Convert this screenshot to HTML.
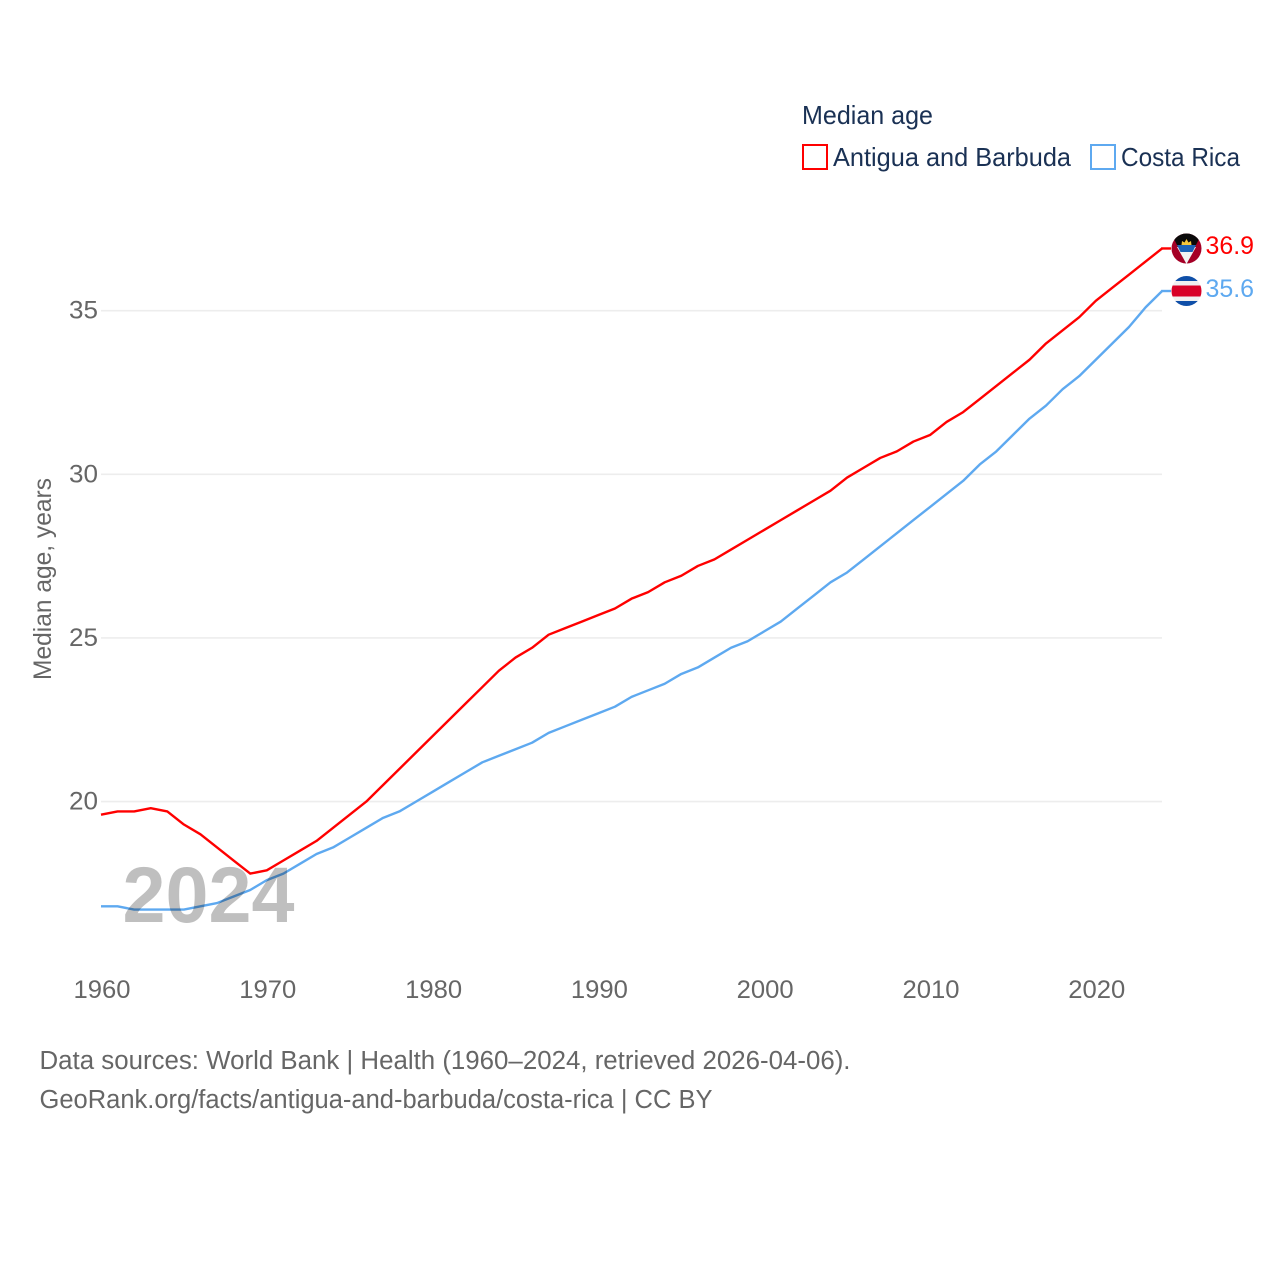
<!DOCTYPE html>
<html>
<head>
<meta charset="utf-8">
<title>Median age: Antigua and Barbuda vs Costa Rica</title>
<style>
html,body{margin:0;padding:0;background:#fff}
svg{display:block}
text{font-family:"Liberation Sans",sans-serif}
</style>
</head>
<body>
<svg id="chart" width="1280" height="1280" viewBox="0 0 1280 1280" xmlns="http://www.w3.org/2000/svg">
  <rect width="1280" height="1280" fill="#fff"/>
  <g id="grid"></g>
  <g id="yticks"></g>
  <g id="xticks"></g>
  <text transform="translate(51,680) rotate(-90)" font-size="25" fill="#666" textLength="202" lengthAdjust="spacingAndGlyphs">Median age, years</text>
  <g id="series"></g>
  <text x="122.5" y="922" font-size="79" font-weight="700" fill="#000" fill-opacity="0.25" textLength="172" lengthAdjust="spacingAndGlyphs" style="font-family:'Liberation Sans',sans-serif">2024</text>

  <text x="802" y="124" font-size="26" fill="#1a3154" textLength="131" lengthAdjust="spacingAndGlyphs">Median age</text>
  <rect x="803" y="145" width="24" height="24" fill="#fff" stroke="#ff0000" stroke-width="2"/>
  <text x="833" y="166" font-size="26" fill="#1a3154" textLength="238" lengthAdjust="spacingAndGlyphs">Antigua and Barbuda</text>
  <rect x="1091" y="145" width="24" height="24" fill="#fff" stroke="#5ea9f0" stroke-width="2"/>
  <text x="1121" y="166" font-size="26" fill="#1a3154" textLength="119" lengthAdjust="spacingAndGlyphs">Costa Rica</text>

  <defs>
    <clipPath id="flag-clip-ag"><circle cx="1186.5" cy="248.5" r="15"/></clipPath>
    <clipPath id="flag-clip-cr"><circle cx="1186.5" cy="291" r="15"/></clipPath>
  </defs>
  <g clip-path="url(#flag-clip-ag)">
    <rect x="1171" y="233" width="31" height="31" fill="#a50026"/>
    <polygon points="1171,233 1202,233 1186.5,264" fill="#0a0a0a"/>
    <polygon points="1177,247 1196,247 1186.5,264" fill="#f3f3f3"/>
    <polygon points="1177,245 1196,245 1192.5,252 1180.5,252" fill="#1c63b7"/>
    <polygon points="1181.5,245 1182,241 1184.5,242.5 1186.5,239 1188.5,242.5 1191,241 1191.5,245" fill="#f5c73a"/>
  </g>
  <g clip-path="url(#flag-clip-cr)">
    <rect x="1171" y="275" width="31" height="32" fill="#f0f0f0"/>
    <rect x="1171" y="275" width="31" height="6" fill="#0f4fa8"/>
    <rect x="1171" y="301" width="31" height="6" fill="#0f4fa8"/>
    <rect x="1171" y="285.5" width="31" height="11" fill="#d80027"/>
  </g>
  <text x="1205.5" y="254" font-size="25" fill="#ff0000" textLength="48.5" lengthAdjust="spacingAndGlyphs">36.9</text>
  <text x="1205.5" y="297" font-size="25" fill="#5ea9f0" textLength="48.5" lengthAdjust="spacingAndGlyphs">35.6</text>

  <text x="39.5" y="1069" font-size="25.5" fill="#666" textLength="811" lengthAdjust="spacingAndGlyphs">Data sources: World Bank | Health (1960–2024, retrieved 2026-04-06).</text>
  <text x="39.5" y="1108" font-size="25.5" fill="#666" textLength="673" lengthAdjust="spacingAndGlyphs">GeoRank.org/facts/antigua-and-barbuda/costa-rica | CC BY</text>
</svg>
<script>
const years = [1960,1961,1962,1963,1964,1965,1966,1967,1968,1969,1970,1971,1972,1973,1974,1975,1976,1977,1978,1979,1980,1981,1982,1983,1984,1985,1986,1987,1988,1989,1990,1991,1992,1993,1994,1995,1996,1997,1998,1999,2000,2001,2002,2003,2004,2005,2006,2007,2008,2009,2010,2011,2012,2013,2014,2015,2016,2017,2018,2019,2020,2021,2022,2023,2024];
const antiguaValues = [19.6,19.7,19.7,19.8,19.7,19.3,19.0,18.6,18.2,17.8,17.9,18.2,18.5,18.8,19.2,19.6,20.0,20.5,21.0,21.5,22.0,22.5,23.0,23.5,24.0,24.4,24.7,25.1,25.3,25.5,25.7,25.9,26.2,26.4,26.7,26.9,27.2,27.4,27.7,28.0,28.3,28.6,28.9,29.2,29.5,29.9,30.2,30.5,30.7,31.0,31.2,31.6,31.9,32.3,32.7,33.1,33.5,34.0,34.4,34.8,35.3,35.7,36.1,36.5,36.9];
const costaRicaValues = [16.8,16.8,16.7,16.7,16.7,16.7,16.8,16.9,17.1,17.3,17.6,17.8,18.1,18.4,18.6,18.9,19.2,19.5,19.7,20.0,20.3,20.6,20.9,21.2,21.4,21.6,21.8,22.1,22.3,22.5,22.7,22.9,23.2,23.4,23.6,23.9,24.1,24.4,24.7,24.9,25.2,25.5,25.9,26.3,26.7,27.0,27.4,27.8,28.2,28.6,29.0,29.4,29.8,30.3,30.7,31.2,31.7,32.1,32.6,33.0,33.5,34.0,34.5,35.1,35.6];
const yTickValues = [20,25,30,35];
const xTickValues = [1960,1970,1980,1990,2000,2010,2020];

const NS = 'http://www.w3.org/2000/svg';
function xScale(year){ return 101 + (year - 1960) * 16.58; }
function yScale(v){ return 801.6 - (v - 20) * 32.73; }
function mk(tag, attrs, parent){
  const el = document.createElementNS(NS, tag);
  for (const k in attrs) el.setAttribute(k, attrs[k]);
  parent.appendChild(el);
  return el;
}
const grid = document.getElementById('grid');
const yticks = document.getElementById('yticks');
const xticks = document.getElementById('xticks');
const seriesG = document.getElementById('series');

yTickValues.forEach(function(v){
  const line = mk('line', {x1:101, x2:1162, y1:yScale(v), y2:yScale(v), stroke:'#ededed', 'stroke-width':1.6}, grid);
  
  
  const t = mk('text', {x:98, y:yScale(v)+8, 'text-anchor':'end', 'font-size':25, fill:'#666', textLength:29, lengthAdjust:'spacingAndGlyphs'}, yticks);
  
  
  t.textContent = v;
});
xTickValues.forEach(function(y){
  const t = mk('text', {x:xScale(y)+1, y:998, 'text-anchor':'middle', 'font-size':25, fill:'#666', textLength:57, lengthAdjust:'spacingAndGlyphs'}, xticks);
  
  
  t.textContent = y;
});
function drawSeries(values, color, name){
  let d = values.map(function(v, i){
    return (i ? 'L' : 'M') + xScale(years[i]).toFixed(2) + ' ' + yScale(v).toFixed(2);
  }).join(' ');
  const p = mk('path', {d:d, fill:'none', stroke:color, 'stroke-width':2.4, 'stroke-linejoin':'round'}, seriesG);
  
  
  const lastY = yScale(values[values.length - 1]);
  const c = mk('line', {x1:xScale(years[years.length - 1]) - 1, x2:1171, y1:lastY, y2:lastY, stroke:color, 'stroke-width':2.4}, seriesG);
  
  
}
drawSeries(costaRicaValues, '#5ea9f0', 'line-costa-rica');
drawSeries(antiguaValues, '#ff0000', 'line-antigua-and-barbuda');
</script>
</body>
</html>
